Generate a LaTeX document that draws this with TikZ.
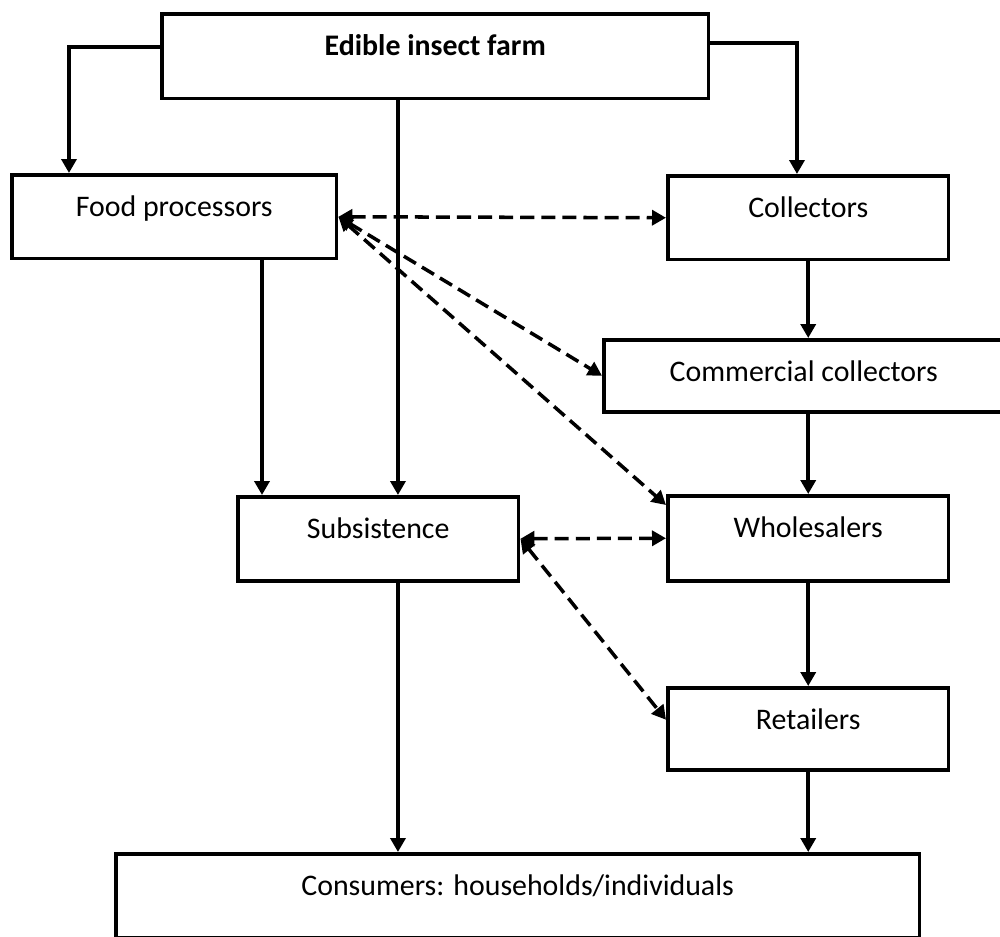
\documentclass[tikz,border=0pt]{standalone}
\usepackage{fontspec}
\setmainfont{Carlito}
\usetikzlibrary{arrows.meta,calc}

\begin{document}
\begin{tikzpicture}[x=0.02cm,y=-0.02cm,
                    >={Triangle[length=0.28cm,width=0.3cm]},
                    every path/.style={line width=2pt},
                    box/.style={draw,rectangle,line width=2pt,anchor=north west,inner xsep=0pt,inner ysep=0pt,
                                text height=0.84cm,text depth=0.84cm,font=\fontsize{17}{20}\selectfont},
                    flow/.style={<->,line width=2pt,dash pattern=on 8pt off 4pt}]
	\useasboundingbox (0,0) rectangle (1000,936);
	\node[box,minimum width=10.94cm,text depth=0.86cm,font=\bfseries\fontsize{17}{20}\selectfont] (farm) at (160,12) {Edible insect farm};
	\node[box,minimum width=6.5cm]			(fp)	at (10,173)		{Food processors};
	\node[box,minimum width=5.62cm]			(coll)	at (666,174)	{Collectors};
	\node[box,minimum width=8cm,text depth=0.6cm]	(comm)	at (602,338)	{Commercial collectors};
	\node[box,minimum width=5.62cm]			(subs)	at (236,495)	{Subsistence};
	\node[box,minimum width=5.62cm,text depth=0.86cm] (whole) at (666,494)	{Wholesalers};
	\node[box,minimum width=5.62cm,text depth=0.8cm]  (ret)	at (666,686)	{Retailers};
	\node[box,minimum width=16.08cm]		(cons)	at (114,852)	{Consumers: households/individuals};

	\coordinate (s1) at ([xshift=3.24cm]subs.north west);
	\coordinate (s2) at ([xshift=0.52cm]subs.north west);

	\draw[->,line width=2pt] ([yshift=-0.7cm]farm.north west) -| ([xshift=1.18cm]fp.north west);
	\draw[->,line width=2pt] ([yshift=-0.62cm]farm.north east) -| ([xshift=2.62cm]coll.north west);
	\draw[->,line width=2pt] (farm.south -| s1) -- (s1);
	\draw[->,line width=2pt] (fp.south -| s2) -- (s2);
	\draw[->,line width=2pt] (coll.south) -- (coll.south |- comm.north);
	\draw[->,line width=2pt] (whole.north |- comm.south) -- (whole.north);
	\draw[->,line width=2pt] (whole.south) -- (ret.north);
	\draw[->,line width=2pt] (ret.south) -- (ret.south |- cons.north);
	\draw[->,line width=2pt] (s1 |- subs.south) -- (s1 |- cons.north);

	\draw[flow] (fp.east) -- (coll.west);
	\draw[flow] (fp.east) -- (comm.west);
	\draw[flow] (fp.east) -- ([yshift=-0.22cm]whole.north west);
	\draw[flow] (subs.east) -- (whole.west);
	\draw[flow] (subs.east) -- ([yshift=0.18cm]ret.west);
\end{tikzpicture}
\end{document}
